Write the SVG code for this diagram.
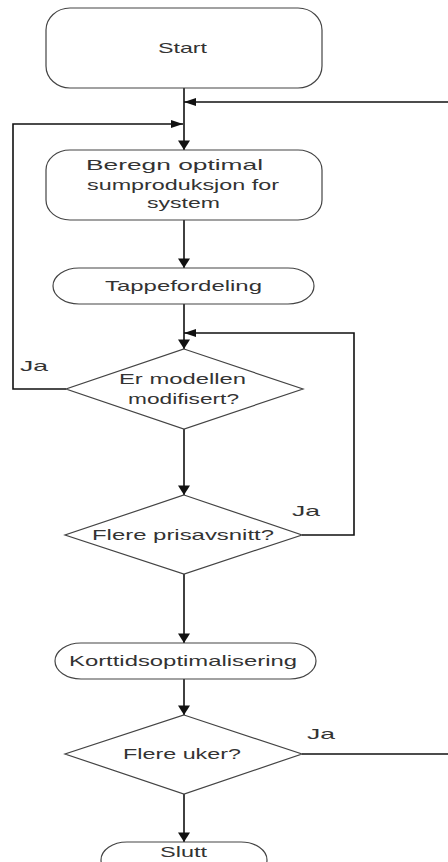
<svg xmlns="http://www.w3.org/2000/svg" width="448" height="862" viewBox="0 0 448 862">
<defs>
<style>
.box{fill:#fff;stroke:#444;stroke-width:1.2}
.ln{fill:none;stroke:#111;stroke-width:1.6}
.t{font-family:"Liberation Sans",Arial,sans-serif;font-size:15px;fill:#333}
</style>
<marker id="av" markerUnits="userSpaceOnUse" markerWidth="10" markerHeight="12" viewBox="0 0 8 10" refX="8" refY="5" orient="auto"><path d="M0,0 L8,5 L0,10 Z" fill="#111"/></marker>
<marker id="ah" markerUnits="userSpaceOnUse" markerWidth="12" markerHeight="9" viewBox="0 0 12 8" refX="12" refY="4" orient="auto"><path d="M0,0 L12,4 L0,8 Z" fill="#111"/></marker>
</defs>
<rect width="448" height="862" fill="#fff"/>
<g id="connectors">
<path class="ln" d="M184,88 V150" marker-end="url(#av)"/>
<path class="ln" d="M448,102 H184" marker-end="url(#ah)"/>
<path class="ln" d="M66,389 H13 V124 H183" marker-end="url(#ah)"/>
<path class="ln" d="M184,220 V268" marker-end="url(#av)"/>
<path class="ln" d="M184,304 V349" marker-end="url(#av)"/>
<path class="ln" d="M302,535 H354 V333 H184" marker-end="url(#ah)"/>
<path class="ln" d="M184,429 V495" marker-end="url(#av)"/>
<path class="ln" d="M184,574 V643" marker-end="url(#av)"/>
<path class="ln" d="M184,679 V715" marker-end="url(#av)"/>
<path class="ln" d="M184,794 V842" marker-end="url(#av)"/>
<path class="ln" d="M302,754 H448"/>
<text class="t" x="20" y="371" textLength="28" lengthAdjust="spacingAndGlyphs">Ja</text>
<text class="t" x="292" y="516" textLength="28" lengthAdjust="spacingAndGlyphs">Ja</text>
<text class="t" x="307" y="739" textLength="28" lengthAdjust="spacingAndGlyphs">Ja</text>
</g>
<g id="start">
<rect class="box" x="46" y="8" width="276" height="80" rx="24" ry="22"/>
<text class="t" x="158" y="53" textLength="49" lengthAdjust="spacingAndGlyphs">Start</text>
</g>
<g id="beregn">
<rect class="box" x="46" y="150" width="276" height="70" rx="24" ry="20"/>
<text class="t" x="86" y="170" textLength="177" lengthAdjust="spacingAndGlyphs">Beregn optimal</text>
<text class="t" x="87" y="190" textLength="192" lengthAdjust="spacingAndGlyphs">sumproduksjon for</text>
<text class="t" x="147" y="208" textLength="73" lengthAdjust="spacingAndGlyphs">system</text>
</g>
<g id="tappe">
<rect class="box" x="53" y="268" width="261" height="36" rx="26" ry="18"/>
<text class="t" x="105" y="291" textLength="157" lengthAdjust="spacingAndGlyphs">Tappefordeling</text>
</g>
<g id="modifisert">
<polygon class="box" points="184,349 303,389 184,429 66,389"/>
<text class="t" x="119" y="384" textLength="127" lengthAdjust="spacingAndGlyphs">Er modellen</text>
<text class="t" x="128" y="404" textLength="111" lengthAdjust="spacingAndGlyphs">modifisert?</text>
</g>
<g id="prisavsnitt">
<polygon class="box" points="184,495 302,535 184,574 65,535"/>
<text class="t" x="92" y="540" textLength="182" lengthAdjust="spacingAndGlyphs">Flere prisavsnitt?</text>
</g>
<g id="korttid">
<rect class="box" x="55" y="643" width="261" height="36" rx="26" ry="18"/>
<text class="t" x="69" y="666" textLength="228" lengthAdjust="spacingAndGlyphs">Korttidsoptimalisering</text>
</g>
<g id="uker">
<polygon class="box" points="184,715 302,754 184,794 65,754"/>
<text class="t" x="123" y="759" textLength="118" lengthAdjust="spacingAndGlyphs">Flere uker?</text>
</g>
<g id="slutt">
<rect class="box" x="101" y="842" width="166" height="36" rx="26" ry="18"/>
<text class="t" x="160" y="857" textLength="47" lengthAdjust="spacingAndGlyphs">Slutt</text>
</g>
</svg>
